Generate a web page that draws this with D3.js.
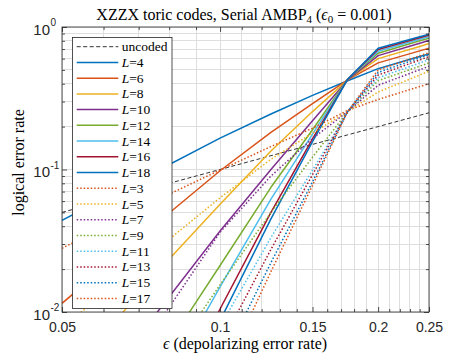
<!DOCTYPE html>
<html><head><meta charset="utf-8">
<script src="https://cdn.jsdelivr.net/npm/d3@7"></script>
<style>body{margin:0;background:#fff}svg{display:block}</style>
</head><body>
<svg id="c" width="474" height="355"></svg>
<script>
// ---- data ----
const eps = [0.05, 0.075, 0.1, 0.125, 0.15, 0.175, 0.2, 0.24, 0.25];
const uncoded = [0.05, 0.075, 0.1, 0.125, 0.15, 0.175, 0.2, 0.24, 0.25];
// solid (even L)
const L4  = [0.044, 0.0957, 0.166, 0.245, 0.331, 0.42, 0.51, 0.62, 0.648];
const L6  = [0.0115, 0.0406, 0.098, 0.182, 0.29, 0.425, 0.56, 0.68, 0.71];
const L8  = [0.0031, 0.0182, 0.057, 0.135, 0.255, 0.425, 0.60, 0.73, 0.765];
const L10 = [0.00113, 0.0094, 0.037, 0.10, 0.22, 0.425, 0.63, 0.77, 0.805];
const L12 = [0.00036, 0.0042, 0.0212, 0.075, 0.19, 0.43, 0.655, 0.80, 0.835];
const L14 = [0.000124, 0.0023, 0.015, 0.062, 0.177, 0.43, 0.675, 0.82, 0.855];
const L16 = [0.00004, 0.0013, 0.0105, 0.05, 0.164, 0.43, 0.695, 0.84, 0.875];
const L18 = [0.00002, 0.0009, 0.0087, 0.045, 0.157, 0.43, 0.71, 0.855, 0.89];
// dotted (odd L)
const L3  = [0.028, 0.06, 0.099, 0.145, 0.195, 0.26, 0.31, 0.382, 0.40];
const L5  = [0.0077, 0.0267, 0.0633, 0.118, 0.18, 0.255, 0.35, 0.46, 0.49];
const L7  = [0.00107, 0.0076, 0.0363, 0.09, 0.165, 0.255, 0.39, 0.501, 0.53];
const L9  = [0.00034, 0.0033, 0.0155, 0.05, 0.122, 0.255, 0.42, 0.531, 0.56];
const L11 = [0.00006, 0.00104, 0.0079, 0.0333, 0.099, 0.255, 0.44, 0.559, 0.59];
const L13 = [0.00003, 0.00064, 0.0058, 0.0275, 0.092, 0.255, 0.46, 0.587, 0.62];
const L15 = [0.00001, 0.00039, 0.0042, 0.0222, 0.082, 0.255, 0.48, 0.607, 0.64];
const L17 = [0.000008, 0.0003, 0.0033, 0.0192, 0.0774, 0.255, 0.50, 0.627, 0.66];

const solidNames = ["4","6","8","10","12","14","16","18"];
const solidSeries = [L4, L6, L8, L10, L12, L14, L16, L18];
const solidColors = ["#0072BD","#D95319","#EDB120","#7E2F8E","#77AC30","#4DBEEE","#A2142F","#0072BD"];
const dotNames = ["3","5","7","9","11","13","15","17"];
const dotSeries = [L3, L5, L7, L9, L11, L13, L15, L17];
const dotColors = ["#D95319","#EDB120","#7E2F8E","#77AC30","#4DBEEE","#A2142F","#0072BD","#D95319"];

const xMajor = [0.05, 0.1, 0.15, 0.2, 0.25];
const xMajorLabels = ["0.05", "0.1", "0.15", "0.2", "0.25"];
const xMinor = [0.06,0.07,0.08,0.09,0.11,0.12,0.13,0.14,0.16,0.17,0.18,0.19,0.21,0.22,0.23,0.24];
const yMajor = [0.01, 0.1, 1];
const yMajorExp = ["-2", "-1", "0"];
const yMinor = [0.02,0.03,0.04,0.05,0.06,0.07,0.08,0.09,0.2,0.3,0.4,0.5,0.6,0.7,0.8,0.9];

// ---- layout ----
const P = {l:62, r:429, t:27, b:312};
const svg = d3.select("#c");
const x = d3.scaleLog().domain([0.05, 0.25]).range([P.l, P.r]);
const y = d3.scaleLog().domain([0.01, 1]).range([P.b, P.t]);
const serif = "'Liberation Serif','Times New Roman',serif";
const sans = "'Liberation Sans',Arial,Helvetica,sans-serif";
const axisCol = "#262626";

svg.append("rect").attr("width",474).attr("height",355).attr("fill","#fff");

// grid
const grid = svg.append("g").attr("stroke","#dedede").attr("stroke-width",1).attr("shape-rendering","crispEdges");
xMinor.concat(xMajor).forEach(v => grid.append("line")
  .attr("x1", x(v)).attr("x2", x(v)).attr("y1", P.t).attr("y2", P.b));
yMinor.concat(yMajor).forEach(v => grid.append("line")
  .attr("x1", P.l).attr("x2", P.r).attr("y1", y(v)).attr("y2", y(v)));

// clip
svg.append("defs").append("clipPath").attr("id","clip").append("rect")
  .attr("x",P.l).attr("y",P.t).attr("width",P.r-P.l).attr("height",P.b-P.t);
const plotG = svg.append("g").attr("clip-path","url(#clip)");
const line = d3.line().x(d => x(d[0])).y(d => y(d[1]));

plotG.append("path").datum(eps.map((e,i)=>[e, uncoded[i]]))
  .attr("d", line).attr("fill","none").attr("stroke","#333").attr("stroke-width",1)
  .attr("stroke-dasharray","4,2.5");
solidSeries.forEach((s,k) => plotG.append("path").datum(eps.map((e,i)=>[e, s[i]]))
  .attr("d", line).attr("fill","none").attr("stroke", solidColors[k]).attr("stroke-width",1.5)
  .attr("stroke-linejoin","round"));
dotSeries.forEach((s,k) => plotG.append("path").datum(eps.map((e,i)=>[e, s[i]]))
  .attr("d", line).attr("fill","none").attr("stroke", dotColors[k]).attr("stroke-width",1.5)
  .attr("stroke-dasharray","1.5,2"));

// axes ticks (inward, all four sides)
function tickAxis(gen, vals, size, tx, ty){
  const g = svg.append("g").attr("transform",`translate(${tx},${ty})`)
    .call(gen.tickValues(vals).tickSize(size).tickFormat(""));
  g.select(".domain").remove();
  g.selectAll("line").attr("stroke",axisCol).attr("stroke-width",0.8);
  return g;
}
tickAxis(d3.axisBottom(x), xMajor, -5, 0, P.b);
tickAxis(d3.axisBottom(x), xMinor, -3, 0, P.b);
tickAxis(d3.axisTop(x), xMajor, -5, 0, P.t);
tickAxis(d3.axisTop(x), xMinor, -3, 0, P.t);
tickAxis(d3.axisLeft(y), yMajor, -5, P.l, 0);
tickAxis(d3.axisLeft(y), yMinor, -3, P.l, 0);
tickAxis(d3.axisRight(y), yMajor, -5, P.r, 0);
tickAxis(d3.axisRight(y), yMinor, -3, P.r, 0);

// x tick labels
const xl = svg.append("g").attr("transform",`translate(0,${P.b})`)
  .call(d3.axisBottom(x).tickValues(xMajor).tickSize(0).tickPadding(10.5)
        .tickFormat((d,i) => xMajorLabels[i]));
xl.select(".domain").remove();
xl.selectAll("text").attr("font-family", sans).attr("font-size", 14).attr("fill", axisCol);

// y tick labels (10^k)
yMajor.forEach((v,i) => {
  svg.append("text").attr("x", 50).attr("y", y(v) + 7.5).attr("text-anchor","end")
    .attr("font-family", sans).attr("font-size", 15).attr("fill", axisCol).text("10");
  svg.append("text").attr("x", 50.5).attr("y", y(v) - 1).attr("text-anchor","start")
    .attr("font-family", sans).attr("font-size", 10).attr("fill", axisCol).text(yMajorExp[i]);
});

// frame
svg.append("rect").attr("x",P.l).attr("y",P.t).attr("width",P.r-P.l).attr("height",P.b-P.t)
  .attr("fill","none").attr("stroke",axisCol).attr("stroke-width",0.8);

// title
const title = svg.append("text").attr("x", 244).attr("y", 19.5).attr("text-anchor","middle")
  .attr("font-family", serif).attr("font-size", 16).attr("fill","#000");
title.append("tspan").text("XZZX toric codes, Serial AMBP");
title.append("tspan").attr("font-size", 11).attr("dy", 3).text("4");
title.append("tspan").attr("dy", -3).text(" (");
title.append("tspan").attr("font-style","italic").text("ϵ");
title.append("tspan").attr("font-size", 11).attr("dy", 3).text("0");
title.append("tspan").attr("dy", -3).text(" = 0.001)");

// axis labels
const xlab = svg.append("text").attr("x", 245).attr("y", 349).attr("text-anchor","middle")
  .attr("font-family", serif).attr("font-size", 16).attr("fill","#000");
xlab.append("tspan").attr("font-style","italic").text("ϵ");
xlab.append("tspan").text(" (depolarizing error rate)");
svg.append("text").attr("transform","translate(23.5,162.5) rotate(-90)").attr("text-anchor","middle")
  .attr("font-family", serif).attr("font-size", 16).attr("fill","#000").text("logical error rate");

// legend
const lg = svg.append("g");
const LB = {x:72.5, y:37.5, w:99.5, h:271};
lg.append("rect").attr("x",LB.x).attr("y",LB.y).attr("width",LB.w).attr("height",LB.h)
  .attr("fill","#fff").attr("stroke",axisCol).attr("stroke-width",0.8);
const entries = [{name:null, color:"#333", dash:"4,2.5", w:1}]
  .concat(solidNames.map((n,k)=>({name:n, color:solidColors[k], dash:null, w:1.5})))
  .concat(dotNames.map((n,k)=>({name:n, color:dotColors[k], dash:"1.5,2", w:1.5})));
entries.forEach((e,i) => {
  const yy = 46.7 + i * 15.73;
  lg.append("line").attr("x1",76.7).attr("x2",118.3).attr("y1",yy).attr("y2",yy)
    .attr("stroke", e.color).attr("stroke-width", e.w).attr("stroke-dasharray", e.dash);
  const t = lg.append("text").attr("x",121.7).attr("y", yy + 4.5)
    .attr("font-family", serif).attr("font-size", 13.5).attr("fill","#000");
  if (e.name === null) t.text("uncoded");
  else { t.append("tspan").attr("font-style","italic").text("L"); t.append("tspan").text("=" + e.name); }
});
</script>
</body></html>
